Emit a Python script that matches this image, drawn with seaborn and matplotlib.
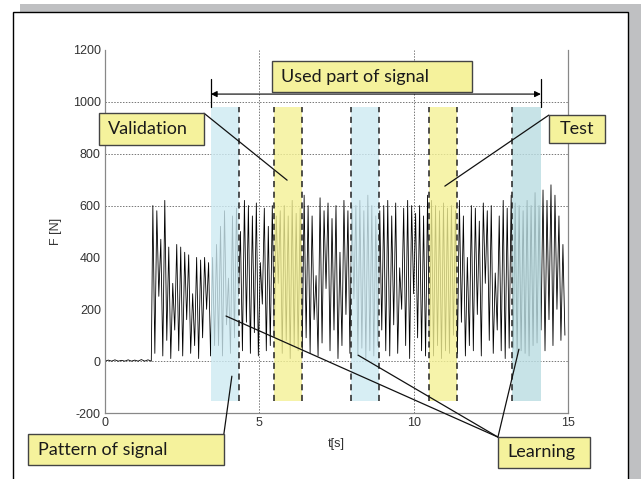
import numpy as np
import pandas as pd
import matplotlib
matplotlib.use("Agg")
import matplotlib.pyplot as plt
import seaborn as sns
from matplotlib.patches import Rectangle

# signal: quiet start, then alternating peak / trough values
quiet_vals = [0, 4, 0, 5, 0, 3, 0, 5, 0, 4, 0, 6, 0, 5, 0]
peaks = [600, 580, 470, 620, 440, 300, 450, 440, 420, 410, 260, 400, 390, 400, 380, 400,
         450, 520, 580, 320, 560, 590, 500,
         620, 600, 560, 610, 380, 590, 520, 600, 560,
         580, 600, 560, 620, 570, 590,
         640, 600, 560, 330, 630, 580, 610, 550, 600, 420, 620, 580, 600,
         600, 620, 580, 640, 600, 560,
         580, 600, 620, 560, 610, 360, 590, 620, 600, 570, 600, 560,
         640, 620, 600, 580, 610, 590,
         600, 580, 620, 560, 400, 600, 590, 540, 610, 580, 600, 340, 560, 620, 590,
         640, 610, 600, 580, 620, 600,
         650, 600, 660, 620, 680, 640, 560, 450]
troughs = [30, 250, 20, 80, 10, 120, 40, 20, 160, 30, 60, 10, 90, 200, 20, 60,
           60, 20, 140, 30, 90, 250, 40,
           150, 30, 110, 20, 220, 40, 60, 100, 300,
           30, 80, 10, 60, 40, 20,
           90, 30, 160, 20, 70, 280, 40, 120, 10, 60, 180, 30, 240,
           20, 50, 10, 40, 20, 60,
           120, 40, 20, 140, 30, 200, 60, 10, 260, 90, 40, 20,
           30, 20, 60, 10, 40, 30,
           100, 30, 150, 20, 60, 40, 180, 20, 300, 80, 30, 120, 40, 10, 50,
           50, 20, 40, 30, 20, 60,
           70, 120, 40, 160, 60, 200, 80, 100]

# train / validation / test windows [s]
band_starts = [3.43, 5.47, 7.97, 10.50, 13.20]
band_ends = [4.34, 6.38, 8.88, 11.40, 14.12]
band_kinds = ["learn", "valid", "learn", "valid", "test"]
dash_left = [False, True, True, True, True]
dash_right = [True, True, True, True, False]
band_low, band_high = -155, 980
used_start, used_end = 3.43, 14.12

colors = {"learn": "#cdeaf2", "valid": "#f4f195", "test": "#badde2"}
box_color = "#f5f29c"

# label boxes: text, box x0, x1, y0, y1, text x, text y (data units)
labels = [("Used part of signal", 5.41, 11.89, 1037, 1157, 5.70, 1097),
          ("Validation", -0.19, 3.21, 833, 956, 0.10, 895),
          ("Test", 14.38, 16.20, 841, 949, 14.74, 895),
          ("Pattern of signal", -2.49, 3.85, -401, -282, -2.17, -341),
          ("Learning", 12.73, 15.71, -413, -293, 13.05, -351)]

# leader lines from the boxes to the marked parts
leaders = [((3.21, 956), (5.90, 698)),
           ((14.38, 949), (11.01, 675)),
           ((3.85, -282), (4.11, -58)),
           ((12.73, -293), (3.92, 174)),
           ((12.73, -293), (8.20, 23)),
           ((12.73, -293), (13.41, 46))]

# build the time axis
quiet_t = np.linspace(0, 1.5, len(quiet_vals))
vals = []
for p, tr in zip(peaks, troughs):
    vals += [p, tr]
active_t = np.linspace(1.55, 14.9, len(vals))
df = pd.DataFrame({"t": np.concatenate([quiet_t, active_t]),
                   "F": np.concatenate([quiet_vals, vals])})

sns.set_theme(style="white")
plt.rcParams["font.family"] = ["Liberation Sans", "DejaVu Sans"]
plt.rcParams["axes.unicode_minus"] = False

fig = plt.figure(figsize=(6.41, 4.79), dpi=100)

# page frame with grey shadow
fig.patches.append(Rectangle((20/641, 0), 621/641, 475/479, transform=fig.transFigure,
                             facecolor="#bfc0c2", edgecolor="none", zorder=-3))
fig.patches.append(Rectangle((13/641, -0.01), 615/641, 1-12/479+0.01, transform=fig.transFigure,
                             facecolor="white", edgecolor="black", lw=1.0, zorder=-2))

ax = fig.add_axes([105/641, 1-413/479, 463/641, 363/479])
ax.set_facecolor("none")
ax.grid(False)

sns.lineplot(data=df, x="t", y="F", ax=ax, color="black", lw=0.6, sort=False,
             estimator=None, zorder=2)

for yv in [1000, 800, 600, 0]:
    ax.axhline(yv, color="#777777", lw=0.7, ls=(0, (1.5, 1.5)), zorder=1)
for xv in [5, 10]:
    ax.axvline(xv, color="#777777", lw=0.7, ls=(0, (1.5, 1.5)), zorder=1)

for s, e, k, dl, dr in zip(band_starts, band_ends, band_kinds, dash_left, dash_right):
    ax.fill_between([s, e], band_low, band_high, color=colors[k], alpha=0.8, lw=0, zorder=3)
    if dl:
        ax.plot([s, s], [band_low, band_high], color="#222222", lw=1.1, ls=(0, (4, 3)), zorder=4)
    if dr:
        ax.plot([e, e], [band_low, band_high], color="#222222", lw=1.1, ls=(0, (4, 3)), zorder=4)

# used part of signal
for xv in [used_start, used_end]:
    ax.plot([xv, xv], [band_high, 1090], color="black", lw=0.9, zorder=4)
ax.annotate("", xy=(used_start, 1030), xytext=(used_end, 1030),
            arrowprops=dict(arrowstyle="<|-|>", color="black", lw=0.8,
                            mutation_scale=9, shrinkA=0, shrinkB=0), zorder=4)

for text, x0, x1, y0, y1, tx, ty in labels:
    ax.add_patch(Rectangle((x0, y0), x1 - x0, y1 - y0, facecolor=box_color,
                           edgecolor="#444444", lw=1.0, zorder=6, clip_on=False))
    ax.text(tx, ty, text, fontsize=13, family=["Lato", "DejaVu Sans"], color="#1a1a1a",
            ha="left", va="center", zorder=7, clip_on=False)

for (x0, y0), (x1, y1) in leaders:
    ax.plot([x0, x1], [y0, y1], color="#111111", lw=0.9, zorder=5, clip_on=False)

ax.set_xlim(0, 15)
ax.set_ylim(-200, 1200)
ax.set_xticks([0, 5, 10, 15])
ax.set_yticks([-200, 0, 200, 400, 600, 800, 1000, 1200])
ax.tick_params(axis="both", length=0, pad=3, labelsize=9, labelcolor="#333333")
ax.set_xlabel("t[s]", fontsize=9, color="#333333", labelpad=6)
ax.set_ylabel("F [N]", fontsize=9, color="#333333", labelpad=8)

for side in ["left", "bottom", "right"]:
    ax.spines[side].set_color("#888888")
    ax.spines[side].set_linewidth(0.9)
ax.spines["top"].set_visible(False)

fig.savefig("out.png", dpi=100)
